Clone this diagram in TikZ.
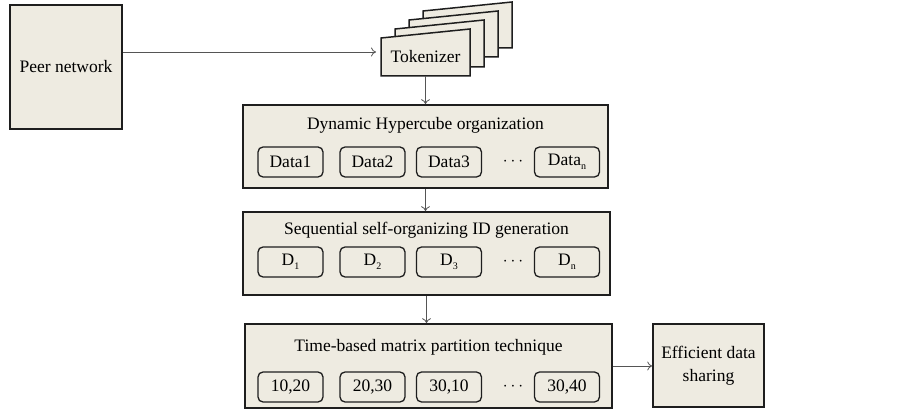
\documentclass[tikz,border=0pt]{standalone}
\usepackage{fontspec}
\setmainfont{Liberation Serif}
\usetikzlibrary{arrows.meta}
\definecolor{boxfill}{RGB}{238,235,225}
\definecolor{edge}{RGB}{30,30,30}
\definecolor{flowgray}{RGB}{85,85,85}
\newcommand{\lowidx}[1]{\raisebox{-4pt}{\fontsize{10}{10}\selectfont #1}}
\tikzset{
	blk/.style={draw=edge, line width=1.6pt, fill=boxfill, inner sep=0pt},
	item/.style={draw=edge, line width=1.3pt, rounded corners=5pt, minimum width=65pt, minimum height=30pt, inner sep=0pt},
	card/.style={draw=edge, line width=1.5pt, fill=boxfill},
	flow/.style={draw=flowgray, line width=0.8pt, -{To[length=5pt,width=9pt]}},
}

\begin{document}
\begin{tikzpicture}[x=1pt, y=-1pt, font=\fontsize{17.5}{23}\selectfont]
			%%%%% START %%%%%
			
			\useasboundingbox (0,0) rectangle (903,411);
			
			\node[blk, minimum width=112pt, minimum height=124pt] (peer) at (66,67) {Peer network};
			
			\draw[card] (423,48) -- (423,11) -- (512,2) -- (512,48) -- cycle;
			\draw[card] (409,57) -- (409,20) -- (498,11) -- (498,57) -- cycle;
			\draw[card] (395,67) -- (395,29) -- (484,20) -- (484,67) -- cycle;
			\draw[card] (381,76) -- (381,38) -- (470,29) -- (470,76) -- cycle;
			\node[minimum width=89pt, minimum height=38pt, inner sep=0pt] (tok) at (425.5,57) {Tokenizer};
			
			\coordinate (tokin) at (376,52);
			\draw[flow] (peer.east |- tokin) -- (tokin);
			
			\node[blk, minimum width=365pt, minimum height=83pt] (hyp) at (425.5,146.5) {};
			\node (hyptitle) at (425.5,125) {Dynamic Hypercube organization};
			\node[item] (hyp1) at (290.5,162) {Data1};
			\node[item] (hyp2) at (372.5,162) {Data2};
			\node[item] (hyp3) at (449,162) {Data3};
			\node (hypdots) at (513,162) {$\cdots$};
			\node[item] (hypn) at (567,162) {Data\lowidx{n}};
			
			\node[blk, minimum width=367pt, minimum height=83pt] (seq) at (426.5,253.5) {};
			\node (seqtitle) at (426.5,230) {Sequential self-organizing ID generation};
			\node[item] (seq1) at (290.5,262) {D\lowidx{1}};
			\node[item] (seq2) at (372.5,262) {D\lowidx{2}};
			\node[item] (seq3) at (449,262) {D\lowidx{3}};
			\node (seqdots) at (513,262) {$\cdots$};
			\node[item] (seqn) at (567,262) {D\lowidx{n}};
			
			\node[blk, minimum width=367pt, minimum height=84pt] (tbm) at (428.5,366) {};
			\node (tbmtitle) at (428.5,347) {Time-based matrix partition technique};
			\node[item] (tbm1) at (290.5,387) {10,20};
			\node[item] (tbm2) at (372.5,387) {20,30};
			\node[item] (tbm3) at (449,387) {30,10};
			\node (tbmdots) at (513,387) {$\cdots$};
			\node[item] (tbmn) at (567,387) {30,40};
			
			\node[blk, minimum width=111pt, minimum height=83pt, align=center] (eff) at (708.5,365.5) {Efficient data\\sharing};
			
			\draw[flow] (tok.south) -- (tok.south |- hyp.north);
			\draw[flow] (hyp.south) -- (hyp.south |- seq.north);
			\draw[flow] (seq.south) -- (seq.south |- tbm.north);
			\draw[flow] (tbm.east) -- (tbm.east -| eff.west);
			
			%%%%% END %%%%%
\end{tikzpicture}
\end{document}
